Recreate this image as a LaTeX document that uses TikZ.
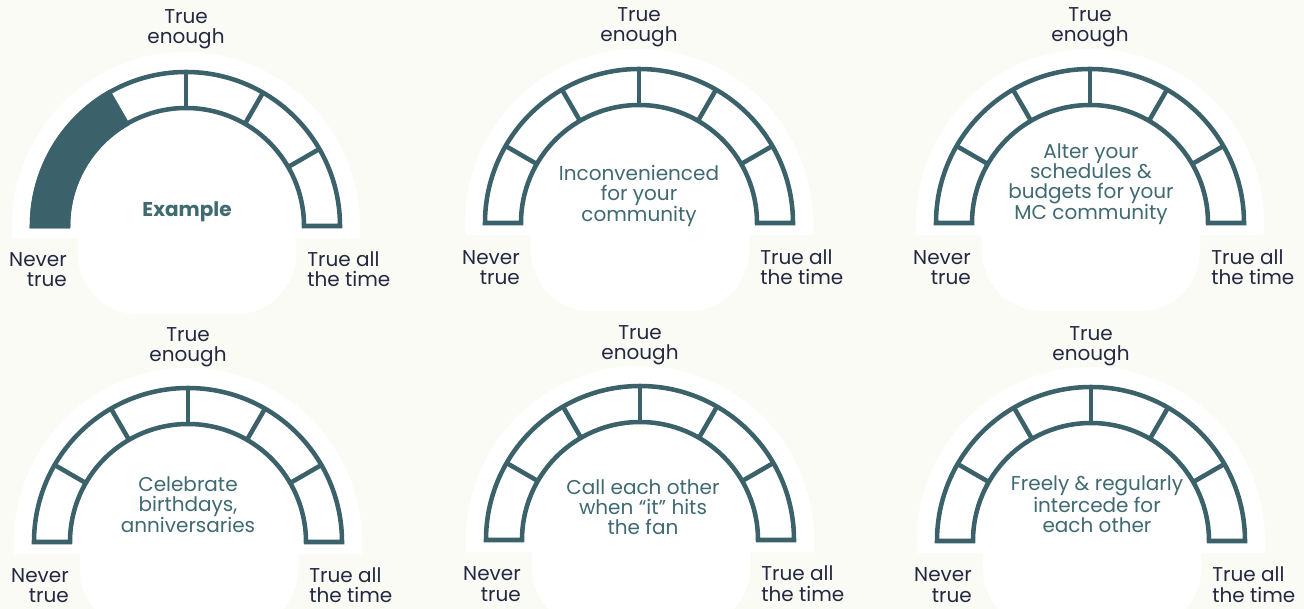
\documentclass[tikz,border=0pt]{standalone}
\usepackage{fontspec}
\setmainfont{Poppins}
\definecolor{Gline}{RGB}{59,97,107}
\definecolor{Gtext}{RGB}{64,106,114}
\definecolor{Ltext}{RGB}{36,40,64}
\definecolor{Bgfill}{RGB}{251,251,246}
\begin{document}
\begin{tikzpicture}[x=0.75pt,y=0.75pt,line join=miter,
  gauge/.style={draw=Gline,line width=3.4pt},
  gaugefill/.style={fill=Gline,draw=Gline,line width=3.4pt},
  halo/.style={fill=white},
  scalelabel/.style={text=Ltext,inner sep=0pt,font=\fontsize{15}{15.3}\selectfont},
  itemtext/.style={text=Gtext,inner sep=0pt,align=center,font=\fontsize{15}{15}\selectfont}]
\path[use as bounding box] (0,0) rectangle (1304,-609);
\fill[Bgfill] (0,0) rectangle (1304,-609);
\coordinate (g1) at (186,-226);
\coordinate (g2) at (639,-223);
\coordinate (g3) at (1090,-223);
\coordinate (g4) at (188,-542);
\coordinate (g5) at (640,-540);
\coordinate (g6) at (1091,-541);
% white halos
\fill[halo] ([shift={(184:174)}]g1) arc[start angle=184,end angle=-4,radius=174] -- cycle;
\fill[halo,rounded corners=45] ([shift={(-108,0)}]g1) -- ([shift={(-108,-88)}]g1) -- ([shift={(110,-88)}]g1) -- ([shift={(110,0)}]g1);
\fill[halo] ([shift={(184:174)}]g2) arc[start angle=184,end angle=-4,radius=174] -- cycle;
\fill[halo,rounded corners=45] ([shift={(-108,0)}]g2) -- ([shift={(-108,-88)}]g2) -- ([shift={(110,-88)}]g2) -- ([shift={(110,0)}]g2);
\fill[halo] ([shift={(184:174)}]g3) arc[start angle=184,end angle=-4,radius=174] -- cycle;
\fill[halo,rounded corners=45] ([shift={(-108,0)}]g3) -- ([shift={(-108,-88)}]g3) -- ([shift={(110,-88)}]g3) -- ([shift={(110,0)}]g3);
\fill[halo] ([shift={(184:174)}]g4) arc[start angle=184,end angle=-4,radius=174] -- cycle;
\fill[halo,rounded corners=45] ([shift={(-108,0)}]g4) -- ([shift={(-108,-88)}]g4) -- ([shift={(110,-88)}]g4) -- ([shift={(110,0)}]g4);
\fill[halo] ([shift={(184:174)}]g5) arc[start angle=184,end angle=-4,radius=174] -- cycle;
\fill[halo,rounded corners=45] ([shift={(-108,0)}]g5) -- ([shift={(-108,-88)}]g5) -- ([shift={(110,-88)}]g5) -- ([shift={(110,0)}]g5);
\fill[halo] ([shift={(184:174)}]g6) arc[start angle=184,end angle=-4,radius=174] -- cycle;
\fill[halo,rounded corners=45] ([shift={(-108,0)}]g6) -- ([shift={(-108,-88)}]g6) -- ([shift={(110,-88)}]g6) -- ([shift={(110,0)}]g6);
% gauge 1 (example)
\draw[gauge,fill=white] ([shift={(180:154)}]g1) arc[start angle=180,end angle=0,radius=154] -- ([shift={(0:118)}]g1) arc[start angle=0,end angle=180,radius=118] -- cycle;
\draw[gaugefill] ([shift={(180:154)}]g1) arc[start angle=180,end angle=120,radius=154] -- ([shift={(120:118)}]g1) arc[start angle=120,end angle=180,radius=118] -- cycle;
\draw[gauge] ([shift={(90:118)}]g1) -- ([shift={(90:154)}]g1);
\draw[gauge] ([shift={(60:118)}]g1) -- ([shift={(60:154)}]g1);
\draw[gauge] ([shift={(30:118)}]g1) -- ([shift={(30:154)}]g1);
% gauge 2
\draw[gauge,fill=white] ([shift={(180:154)}]g2) arc[start angle=180,end angle=0,radius=154] -- ([shift={(0:118)}]g2) arc[start angle=0,end angle=180,radius=118] -- cycle;
\draw[gauge] ([shift={(150:118)}]g2) -- ([shift={(150:154)}]g2);
\draw[gauge] ([shift={(120:118)}]g2) -- ([shift={(120:154)}]g2);
\draw[gauge] ([shift={(90:118)}]g2) -- ([shift={(90:154)}]g2);
\draw[gauge] ([shift={(60:118)}]g2) -- ([shift={(60:154)}]g2);
\draw[gauge] ([shift={(30:118)}]g2) -- ([shift={(30:154)}]g2);
% gauge 3
\draw[gauge,fill=white] ([shift={(180:154)}]g3) arc[start angle=180,end angle=0,radius=154] -- ([shift={(0:118)}]g3) arc[start angle=0,end angle=180,radius=118] -- cycle;
\draw[gauge] ([shift={(150:118)}]g3) -- ([shift={(150:154)}]g3);
\draw[gauge] ([shift={(120:118)}]g3) -- ([shift={(120:154)}]g3);
\draw[gauge] ([shift={(90:118)}]g3) -- ([shift={(90:154)}]g3);
\draw[gauge] ([shift={(60:118)}]g3) -- ([shift={(60:154)}]g3);
\draw[gauge] ([shift={(30:118)}]g3) -- ([shift={(30:154)}]g3);
% gauge 4
\draw[gauge,fill=white] ([shift={(180:154)}]g4) arc[start angle=180,end angle=0,radius=154] -- ([shift={(0:118)}]g4) arc[start angle=0,end angle=180,radius=118] -- cycle;
\draw[gauge] ([shift={(150:118)}]g4) -- ([shift={(150:154)}]g4);
\draw[gauge] ([shift={(120:118)}]g4) -- ([shift={(120:154)}]g4);
\draw[gauge] ([shift={(90:118)}]g4) -- ([shift={(90:154)}]g4);
\draw[gauge] ([shift={(60:118)}]g4) -- ([shift={(60:154)}]g4);
\draw[gauge] ([shift={(30:118)}]g4) -- ([shift={(30:154)}]g4);
% gauge 5
\draw[gauge,fill=white] ([shift={(180:154)}]g5) arc[start angle=180,end angle=0,radius=154] -- ([shift={(0:118)}]g5) arc[start angle=0,end angle=180,radius=118] -- cycle;
\draw[gauge] ([shift={(150:118)}]g5) -- ([shift={(150:154)}]g5);
\draw[gauge] ([shift={(120:118)}]g5) -- ([shift={(120:154)}]g5);
\draw[gauge] ([shift={(90:118)}]g5) -- ([shift={(90:154)}]g5);
\draw[gauge] ([shift={(60:118)}]g5) -- ([shift={(60:154)}]g5);
\draw[gauge] ([shift={(30:118)}]g5) -- ([shift={(30:154)}]g5);
% gauge 6
\draw[gauge,fill=white] ([shift={(180:154)}]g6) arc[start angle=180,end angle=0,radius=154] -- ([shift={(0:118)}]g6) arc[start angle=0,end angle=180,radius=118] -- cycle;
\draw[gauge] ([shift={(150:118)}]g6) -- ([shift={(150:154)}]g6);
\draw[gauge] ([shift={(120:118)}]g6) -- ([shift={(120:154)}]g6);
\draw[gauge] ([shift={(90:118)}]g6) -- ([shift={(90:154)}]g6);
\draw[gauge] ([shift={(60:118)}]g6) -- ([shift={(60:154)}]g6);
\draw[gauge] ([shift={(30:118)}]g6) -- ([shift={(30:154)}]g6);
% scale labels
\node[scalelabel,align=center,anchor=base] (g1top) at ([shift={(0,182)}]g1) {True\\enough};
\node[scalelabel,align=right,anchor=base east] (g1never) at ([shift={(-119,-61)}]g1) {Never\\true};
\node[scalelabel,align=left,anchor=base west] (g1always) at ([shift={(121,-61)}]g1) {True all\\the time};
\node[scalelabel,align=center,anchor=base] (g2top) at ([shift={(0,181)}]g2) {True\\enough};
\node[scalelabel,align=right,anchor=base east] (g2never) at ([shift={(-119,-62)}]g2) {Never\\true};
\node[scalelabel,align=left,anchor=base west] (g2always) at ([shift={(121,-62)}]g2) {True all\\the time};
\node[scalelabel,align=center,anchor=base] (g3top) at ([shift={(0,181)}]g3) {True\\enough};
\node[scalelabel,align=right,anchor=base east] (g3never) at ([shift={(-119,-62)}]g3) {Never\\true};
\node[scalelabel,align=left,anchor=base west] (g3always) at ([shift={(121,-62)}]g3) {True all\\the time};
\node[scalelabel,align=center,anchor=base] (g4top) at ([shift={(0,180)}]g4) {True\\enough};
\node[scalelabel,align=right,anchor=base east] (g4never) at ([shift={(-119,-61)}]g4) {Never\\true};
\node[scalelabel,align=left,anchor=base west] (g4always) at ([shift={(121,-61)}]g4) {True all\\the time};
\node[scalelabel,align=center,anchor=base] (g5top) at ([shift={(0,180)}]g5) {True\\enough};
\node[scalelabel,align=right,anchor=base east] (g5never) at ([shift={(-119,-61)}]g5) {Never\\true};
\node[scalelabel,align=left,anchor=base west] (g5always) at ([shift={(121,-61)}]g5) {True all\\the time};
\node[scalelabel,align=center,anchor=base] (g6top) at ([shift={(0,180)}]g6) {True\\enough};
\node[scalelabel,align=right,anchor=base east] (g6never) at ([shift={(-119,-61)}]g6) {Never\\true};
\node[scalelabel,align=left,anchor=base west] (g6always) at ([shift={(121,-61)}]g6) {True all\\the time};
% items
\node[itemtext,anchor=base,font=\fontsize{15}{15}\selectfont\bfseries] (g1item) at ([shift={(1,9)}]g1) {Example};
\node[itemtext,anchor=base] (g2item) at ([shift={(0,1)}]g2) {Inconvenienced\\for your\\community};
\node[itemtext,anchor=base] (g3item) at ([shift={(1,3)}]g3) {Alter your\\schedules \&\\budgets for your\\MC community};
\node[itemtext,anchor=base] (g4item) at ([shift={(0,9)}]g4) {Celebrate\\birthdays,\\anniversaries};
\node[itemtext,anchor=base] (g5item) at ([shift={(3,5)}]g5) {Call each other\\when “it” hits\\the fan};
\node[itemtext,anchor=base] (g6item) at ([shift={(6,8)}]g6) {Freely \& regularly\\intercede for\\each other};
\end{tikzpicture}
\end{document}
